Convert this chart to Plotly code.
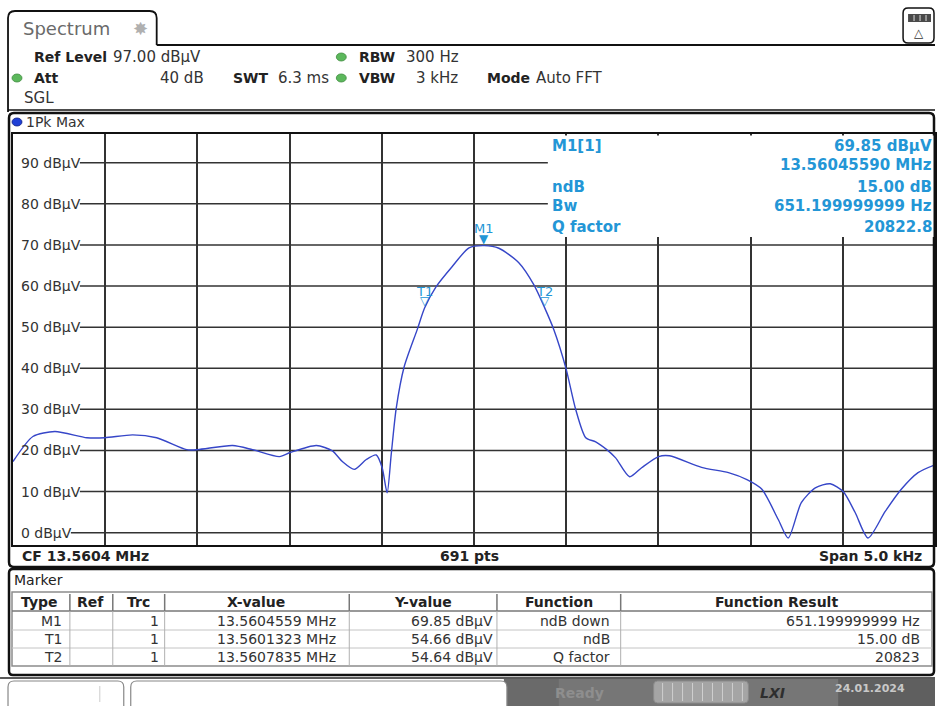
import plotly.graph_objects as go

# ---------------- data ----------------
CENTER_MHZ = 13.5604
SPAN_HZ = 5000
REF_LEVEL = 97.0
offset_hz = [-2500, -2392, -2273, -2099, -2002, -1851, -1721, -1558, -1499, -1309,
             -1201, -1055, -996, -855, -768, -714, -649, -584, -530, -498,
             -471, -449, -422, -379, -308, -268, -206, -119, -27, 56,
             135, 243, 325, 384, 433, 498, 552, 606, 660, 720,
             768, 844, 909, 1001, 1060, 1234, 1380, 1480, 1560, 1650,
             1704, 1775, 1851, 1932, 2002, 2067, 2137, 2229, 2316, 2408, 2500]
level_dbuv = [17.3, 23.4, 24.6, 23.1, 23.1, 23.8, 23.1, 20.2, 20.2, 21.2,
              20.2, 18.5, 19.5, 21.2, 19.9, 17.3, 15.4, 17.8, 18.9, 15.8,
              9.7, 19.0, 30.2, 40.3, 49.4, 54.66, 59.8, 64.7, 69.3, 69.85,
              69.2, 65.7, 60.3, 54.64, 49.4, 40.1, 29.9, 23.1, 22.1, 20.2,
              18.2, 13.6, 15.8, 18.5, 18.7, 15.9, 14.6, 12.9, 10.6, 3.2,
              -1.3, 7.3, 10.9, 11.9, 10.0, 4.9, -1.3, 5.1, 10.5, 14.6, 16.5]
freq_mhz = [CENTER_MHZ + o / 1e6 for o in offset_hz]

marker_names = ["M1", "T1", "T2"]
marker_freq_mhz = [13.5604559, 13.5601323, 13.5607835]
marker_level = [69.85, 54.66, 54.64]
marker_func = ["ndB down", "ndB", "Q factor"]
marker_result = ["651.199999999 Hz", "15.00 dB", "20823"]

y_ticks = [0, 10, 20, 30, 40, 50, 60, 70, 80, 90]

FONT = "DejaVu Sans"
BLUE = "#2396d6"
W, H = 937, 706
L, R, T, B = 13, 937, 134, 545

def X(x):
    return (x - L) / (R - L)

def Y(y):
    return (B - y) / (B - T)

anns, shapes = [], []

def text(x, y, s, size=14, color="#333", anchor="left", bold=False, family=FONT):
    anns.append(dict(xref="paper", yref="paper", x=X(x), y=Y(y),
                     text=f"<b>{s}</b>" if bold else s, showarrow=False,
                     xanchor=anchor, yanchor="middle",
                     font=dict(family=family, size=size, color=color)))

def line(x0, y0, x1, y1, color="#111", width=1.5, layer="above"):
    shapes.append(dict(type="line", xref="paper", yref="paper", x0=X(x0), y0=Y(y0),
                       x1=X(x1), y1=Y(y1), line=dict(color=color, width=width), layer=layer))

def rect(x0, y0, x1, y1, fill="rgba(0,0,0,0)", color="rgba(0,0,0,0)", width=0, layer="above"):
    shapes.append(dict(type="rect", xref="paper", yref="paper", x0=X(x0), y0=Y(y0),
                       x1=X(x1), y1=Y(y1), fillcolor=fill,
                       line=dict(color=color, width=width), layer=layer))

def rrect(x0, y0, x1, y1, r, fill="rgba(0,0,0,0)", color="#111", width=1.5, layer="above", open_bottom=False):
    p = (f"M {X(x0)},{Y(y1)} L {X(x0)},{Y(y0+r)} Q {X(x0)},{Y(y0)} {X(x0+r)},{Y(y0)} "
         f"L {X(x1-r)},{Y(y0)} Q {X(x1)},{Y(y0)} {X(x1)},{Y(y0+r)} L {X(x1)},{Y(y1)}")
    if not open_bottom:
        p = (f"M {X(x0+r)},{Y(y0)} L {X(x1-r)},{Y(y0)} Q {X(x1)},{Y(y0)} {X(x1)},{Y(y0+r)} "
             f"L {X(x1)},{Y(y1-r)} Q {X(x1)},{Y(y1)} {X(x1-r)},{Y(y1)} L {X(x0+r)},{Y(y1)} "
             f"Q {X(x0)},{Y(y1)} {X(x0)},{Y(y1-r)} L {X(x0)},{Y(y0+r)} Q {X(x0)},{Y(y0)} {X(x0+r)},{Y(y0)} Z")
    shapes.append(dict(type="path", xref="paper", yref="paper", path=p, fillcolor=fill,
                       line=dict(color=color, width=width), layer=layer))

def dot(x, y, r, fill, color):
    shapes.append(dict(type="circle", xref="paper", yref="paper", x0=X(x-r), y0=Y(y-r*0.8),
                       x1=X(x+r), y1=Y(y+r*0.8), fillcolor=fill, line=dict(color=color, width=0.8),
                       layer="above"))

# ---------------- frame / header ----------------
rrect(8, 11, 157, 45, 7, open_bottom=True, width=1.8)
line(157, 45, 937, 45, width=2)
line(8, 45, 8, 112, width=1.8)
line(8, 110, 937, 110, width=1.5)
rrect(905, 8, 936, 43, 5, width=1.5)
rect(910, 14, 933, 22, fill="#4a4a4a")
for xs in (916, 922, 928):
    line(xs, 15, xs, 21, color="#ddd", width=1)
text(921, 33, "△", size=12, color="#333", anchor="center")
text(21, 28, "Spectrum", size=18, color="#6a6a6a")
text(141, 28, "✸", size=18, color="#b0b0b0", anchor="center")

text(32, 57, "Ref Level", size=14, color="#222", bold=True)
text(111, 57, "97.00 dBµV", size=15, color="#333")
dot(342, 57, 5, "#5cb85c", "#3d8b3d")
text(358, 57, "RBW", size=14, color="#222", bold=True)
text(405, 57, "300 Hz", size=15, color="#333")
dot(17, 78, 5, "#5cb85c", "#3d8b3d")
text(32, 78, "Att", size=14, color="#222", bold=True)
text(206, 78, "40 dB", size=15, color="#333", anchor="right")
text(231, 78, "SWT", size=14, color="#222", bold=True)
text(277, 78, "6.3 ms", size=15, color="#333")
dot(342, 78, 5, "#5cb85c", "#3d8b3d")
text(358, 78, "VBW", size=14, color="#222", bold=True)
text(461, 78, "3 kHz", size=15, color="#333", anchor="right")
text(486, 78, "Mode", size=14, color="#222", bold=True)
text(535, 78, "Auto FFT", size=15, color="#333")
text(22, 98, "SGL", size=15, color="#333")

# trace panel
rrect(9, 113, 936, 567, 5, width=2.5)
dot(17, 122, 5, "#1f3fd6", "#0a1a80")
text(24, 122, "1Pk Max", size=14, color="#333")

# horizontal grid lines (start after the level labels)
for v in y_ticks:
    shapes.append(dict(type="line", xref="paper", yref="y",
                       x0=X(71 if v == 0 else 80), x1=1, y0=v, y1=v,
                       line=dict(color="#333", width=1.5), layer="below"))
    anns.append(dict(xref="paper", yref="y", x=X(19), y=v, text=f"{v} dBµV",
                     showarrow=False, xanchor="left", yanchor="middle",
                     font=dict(family=FONT, size=14, color="#333")))

# marker info box (covers grid)
rect(549, 135.5, 935.5, 237, fill="white", layer="above")
text(551, 146, "M1[1]", size=15, color=BLUE, bold=True)
text(551, 187, "ndB", size=15, color=BLUE, bold=True)
text(551, 206, "Bw", size=15, color=BLUE, bold=True)
text(551, 227, "Q factor", size=15, color=BLUE, bold=True)
text(936, 146, f"{marker_level[0]:.2f} dBµV", size=15, color=BLUE, bold=True, anchor="right")
text(936, 165, f"{marker_freq_mhz[0]:.8f} MHz", size=15, color=BLUE, bold=True, anchor="right")
text(936, 187, "15.00 dB", size=15, color=BLUE, bold=True, anchor="right")
text(936, 206, "651.199999999 Hz", size=15, color=BLUE, bold=True, anchor="right")
text(936, 227, "20822.8", size=15, color=BLUE, bold=True, anchor="right")

# markers on the trace
for i, (n, f, lv) in enumerate(zip(marker_names, marker_freq_mhz, marker_level)):
    anns.append(dict(xref="x", yref="y", x=f, y=lv, text="▼" if i == 0 else "▽",
                     showarrow=False, xanchor="center", yanchor="bottom", yshift=-2,
                     font=dict(family=FONT, size=12, color=BLUE)))
    anns.append(dict(xref="x", yref="y", x=f, y=lv, text=n, showarrow=False,
                     xanchor="center", yanchor="middle", yshift=17,
                     font=dict(family=FONT, size=13, color=BLUE)))

# bottom of trace panel
text(20, 556, "CF 13.5604 MHz", size=14, color="#222", bold=True)
text(470, 556, "691 pts", size=14, color="#222", bold=True, anchor="center")
text(926, 556, "Span 5.0 kHz", size=14, color="#222", bold=True, anchor="right")

# ---------------- marker table ----------------
rrect(9, 569, 936, 675, 4, width=2.5)
text(12, 580, "Marker", size=14, color="#222")
rect(12, 592, 934, 666, fill="white", color="#8c8c8c", width=1.5)
line(12, 611, 934, 611, color="#777", width=1.5)
line(12, 630, 934, 630, color="#c4c4c4", width=1)
line(12, 648, 934, 648, color="#c4c4c4", width=1)
for xs in (70, 113, 165, 350, 498, 622):
    line(xs, 594, xs, 611, color="#777", width=1.5)
    line(xs, 611, xs, 666, color="#b0b0b0", width=1)
headers = [(40, "Type"), (91, "Ref"), (139, "Trc"), (257, "X-value"),
           (424, "Y-value"), (560, "Function"), (778, "Function Result")]
for xc, h in headers:
    text(xc, 602, h, size=14, color="#222", bold=True, anchor="center")
row_y = [621, 639, 657]
for i in range(3):
    yy = row_y[i]
    text(64, yy, marker_names[i], size=14, color="#333", anchor="right")
    text(161, yy, "1", size=14, color="#333", anchor="right")
    text(339, yy, f"{marker_freq_mhz[i]:.7f} MHz", size=14, color="#333", anchor="right")
    text(496, yy, f"{marker_level[i]:.2f} dBµV", size=14, color="#333", anchor="right")
    text(613, yy, marker_func[i], size=14, color="#333", anchor="right")
    text(924, yy, marker_result[i], size=14, color="#333", anchor="right")

# ---------------- status bar ----------------
rect(505, 679, 937, 706, fill="#767676")
rect(505, 679, 560, 706, fill="#6a6a6a")
rect(840, 679, 937, 706, fill="#5f5f5f")
line(0, 678, 937, 678, color="#222", width=1.5)
rrect(8, 681, 124, 712, 6, fill="white", color="#888", width=1.2)
line(100, 686, 100, 702, color="#ccc", width=1)
rrect(131, 681, 508, 712, 6, fill="white", color="#888", width=1.2)
text(581, 693, "Ready", size=14, color="#8e8e8e", bold=True, anchor="center")
rrect(655, 681, 750, 703, 4, fill="#a5a5a5", color="#8a8a8a", width=1)
for xs in range(664, 746, 10):
    line(xs, 683, xs, 701, color="#cfcfcf", width=1)
text(774, 693, "<i>LXI</i>", size=14, color="#2e2e2e", bold=True, anchor="center")
text(872, 688, "24.01.2024", size=11, color="#c8c8c8", bold=True, anchor="center")

# ---------------- figure ----------------
fig = go.Figure()
fig.add_trace(go.Scatter(x=freq_mhz, y=level_dbuv, mode="lines",
                         line=dict(color="#3646c8", width=1.4, shape="spline", smoothing=0.7),
                         hoverinfo="skip", showlegend=False))

f0 = CENTER_MHZ - SPAN_HZ / 2e6
f1 = CENTER_MHZ + SPAN_HZ / 2e6
fig.update_layout(
    width=W, height=H, autosize=False,
    margin=dict(l=L, r=W - R, t=T, b=H - B, pad=0),
    paper_bgcolor="white", plot_bgcolor="white",
    showlegend=False,
    xaxis=dict(range=[f0, f1], showgrid=True, gridcolor="#333", gridwidth=1.5,
               tick0=f0, dtick=SPAN_HZ / 10 / 1e6, showticklabels=False, ticks="",
               zeroline=False, showline=True, mirror=True, linecolor="#111", linewidth=2,
               fixedrange=True),
    yaxis=dict(range=[REF_LEVEL - 100, REF_LEVEL], showgrid=False, showticklabels=False,
               ticks="", zeroline=False, showline=True, mirror=True, linecolor="#111",
               linewidth=2, fixedrange=True),
    shapes=shapes, annotations=anns,
)
fig.write_html("out.html", config={"displayModeBar": False},
               post_script="document.body.style.margin='0';document.body.style.overflow='hidden';")
